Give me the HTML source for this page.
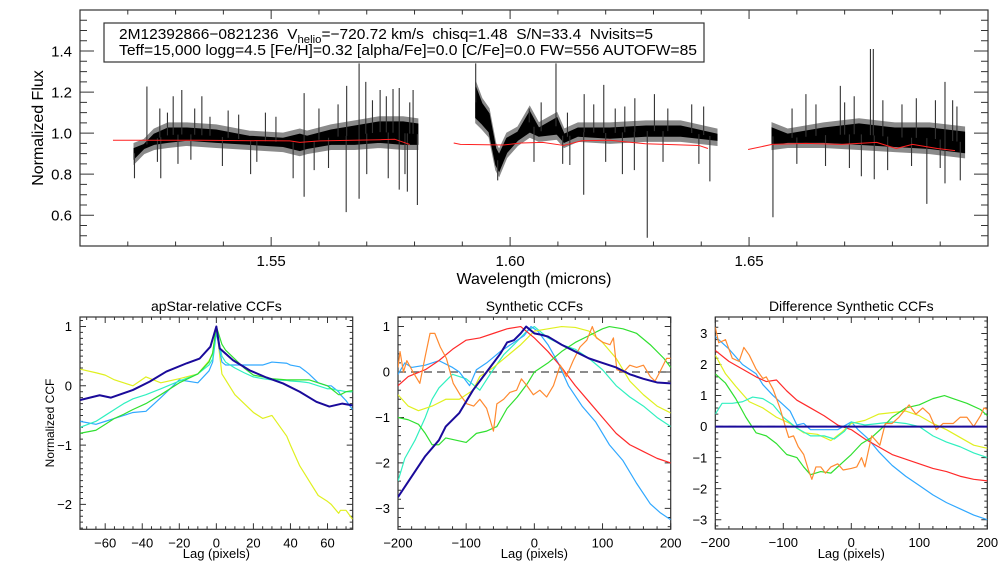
<!DOCTYPE html>
<html><head><meta charset="utf-8"><style>
html,body{margin:0;padding:0;background:#fff;}
svg{display:block;font-family:"Liberation Sans",sans-serif;}
</style></head><body>
<svg id="c" width="1008" height="576" viewBox="0 0 1008 576" xmlns="http://www.w3.org/2000/svg"></svg>
<script>
// ===== Top spectrum data =====
const seg1Wl=[1.5213,1.5234,1.5255,1.5284,1.5324,1.5385,1.5454,1.5525,1.5560,1.5575,1.5625,1.5675,1.5726,1.5776,1.5807];
const seg1Lo=[0.86,0.91,0.93,0.94,0.95,0.94,0.93,0.92,0.90,0.91,0.93,0.93,0.94,0.93,0.93];
const seg1Hi=[0.94,0.96,1.01,1.04,1.04,1.03,1.00,0.99,1.01,1.00,1.03,1.05,1.07,1.07,1.06];
const seg2Wl=[1.5928,1.5941,1.5956,1.5970,1.5977,1.5993,1.6016,1.6041,1.6060,1.6098,1.6113,1.6142,1.6209,1.6284,1.6357,1.6433];
const seg2Lo=[1.06,1.03,0.99,0.83,0.80,0.89,0.95,0.99,0.97,0.98,0.94,0.97,0.96,0.97,0.97,0.95];
const seg2Hi=[1.24,1.16,1.11,0.94,0.91,0.99,1.02,1.12,1.04,1.09,1.01,1.04,1.04,1.05,1.05,1.01];
const seg3Wl=[1.6548,1.6581,1.6656,1.6730,1.6805,1.6878,1.6951];
const seg3Lo=[0.93,0.94,0.94,0.93,0.92,0.91,0.89];
const seg3Hi=[1.04,1.01,1.04,1.06,1.04,1.04,1.02];
const spikeWl=[1.5240,1.5267,1.5295,1.5313,1.5355,1.5569,1.5658,1.5684,1.5698,1.5728,1.5755,1.5768,1.5797,
 1.5214,1.5269,1.5332,1.5457,1.5546,1.5569,1.5657,1.5684,1.5768,1.5785,1.5806,
 1.5928,1.6096,1.6196,1.6155,1.6302,1.6261,1.6287,1.6154,1.6260,1.6418,1.6125,1.5974,
 1.6754,1.6760,1.6619,1.6691,1.6910,1.6926,1.6550,1.6872,1.6735,1.6762,1.6910,1.6942,
 1.5283,1.5340,1.5372,1.5410,1.5432,1.5488,1.5510,1.5600,1.5640,1.5712,1.5741,1.5790,
 1.5262,1.5305,1.5398,1.5470,1.5590,1.5620,1.5700,1.5745,1.5780,
 1.6040,1.6065,1.6120,1.6175,1.6220,1.6240,1.6330,1.6380,1.6405,
 1.6050,1.6110,1.6200,1.6235,1.6320,1.6395,
 1.6590,1.6640,1.6700,1.6720,1.6780,1.6820,1.6850,1.6890,1.6935,
 1.6600,1.6660,1.6710,1.6790,1.6840,1.6900];
const spikeVal=[1.227,1.12,1.18,1.21,1.18,1.195,1.23,1.34,1.25,1.21,1.215,1.22,1.21,
 0.78,0.78,0.87,0.80,0.78,0.69,0.615,0.68,0.725,0.715,0.65,
 1.34,1.34,1.235,1.19,1.19,1.17,0.49,0.70,0.82,0.765,0.845,0.77,
 1.41,1.41,1.19,1.23,1.25,1.16,0.59,0.655,0.79,0.775,0.755,0.77,
 1.10,1.12,1.08,1.11,1.09,1.10,1.08,1.12,1.14,1.16,1.18,1.15,
 0.86,0.85,0.84,0.86,0.82,0.83,0.80,0.78,0.80,
 1.12,1.15,1.10,1.14,1.12,1.13,1.12,1.14,1.13,
 0.86,0.85,0.86,0.80,0.86,0.85,
 1.12,1.14,1.15,1.18,1.16,1.14,1.17,1.16,1.13,
 0.85,0.84,0.83,0.82,0.84,0.83];
const model1Wl=[1.5169,1.5351,1.5539,1.5560,1.5602,1.5728,1.5759,1.5790];
const model1Val=[0.965,0.965,0.962,0.955,0.962,0.968,0.970,0.945];
const model2Wl=[1.5882,1.5896,1.5986,1.6023,1.6068,1.6112,1.6150,1.6209,1.6283,1.6395,1.6414];
const model2Val=[0.952,0.945,0.942,0.952,0.955,0.940,0.963,0.965,0.948,0.940,0.925];
const model3Wl=[1.6498,1.6548,1.6619,1.6693,1.6767,1.6808,1.6842,1.6894,1.6931];
const model3Val=[0.920,0.945,0.950,0.945,0.955,0.925,0.945,0.925,0.915];
const topXTicks=[1.55,1.60,1.65];
const topYTicks=[0.6,0.8,1.0,1.2,1.4];

// ===== Panel 1: apStar-relative CCFs =====
const p1Lag=[-73.5,-63,-57,-45,-36,-27,-16,-9,-3.2,0,1.8,9,18,27,36,45,54,61,68,73.5];
const p1Navy=[-0.24,-0.16,-0.2,-0.07,0.07,0.24,0.38,0.46,0.66,1.0,0.63,0.43,0.26,0.14,0.04,-0.10,-0.27,-0.35,-0.30,-0.33];
const p1LagB=[-73.5,-65,-60,-55,-50,-45,-38,-30,-20,-10,-4,-2,0,3,5,10,15,20,25,30,38,40,45,48,50,55,60,62,66,67,70,73.5];
const p1Yellow=[0.28,0.22,0.18,0.10,0.05,0.0,0.15,0.05,0.12,0.20,0.42,0.55,1.0,0.2,0.1,-0.15,-0.3,-0.45,-0.55,-0.5,-0.85,-1.0,-1.35,-1.5,-1.6,-1.85,-1.95,-2.0,-2.15,-2.1,-2.1,-2.25];
const p1Blue=[-0.6,-0.65,-0.6,-0.55,-0.5,-0.45,-0.43,-0.2,0.1,0.05,0.25,0.4,0.9,0.4,0.35,0.35,0.35,0.35,0.35,0.4,0.38,0.35,0.32,0.25,0.2,0.05,0.0,0.0,-0.1,-0.15,-0.25,-0.4];
const p1Aqua=[-0.7,-0.6,-0.5,-0.4,-0.3,-0.22,-0.15,-0.05,0.08,0.2,0.35,0.45,0.95,0.5,0.4,0.3,0.22,0.15,0.12,0.1,0.09,0.08,0.07,0.06,0.05,0.0,-0.05,-0.05,-0.08,-0.08,-0.1,-0.1];
const p1Green=[-0.8,-0.75,-0.65,-0.55,-0.48,-0.4,-0.3,-0.15,0.05,0.2,0.4,0.55,1.0,0.7,0.6,0.45,0.3,0.18,0.15,0.12,0.1,0.1,0.1,0.1,0.1,0.05,0.0,-0.05,-0.15,-0.15,-0.1,-0.08];
const p1XTicks=[-60,-40,-20,0,20,40,60];
const p1YTicks=[-2,-1,0,1];

// ===== Panel 2: Synthetic CCFs =====
const p2Lag=[-200,-180,-160,-140,-130,-110,-90,-70,-50,-40,-30,-20,-12,0,10,20,40,60,80,100,120,140,160,180,200];
const p2Navy=[-2.75,-2.3,-1.85,-1.5,-1.2,-0.9,-0.4,0.0,0.4,0.65,0.7,0.85,1.0,0.85,0.82,0.78,0.6,0.45,0.3,0.2,0.1,-0.05,-0.15,-0.23,-0.25];
const p2LagC=[-200,-190,-175,-160,-150,-140,-130,-120,-100,-80,-65,-45,-30,-11,0,20,40,60,80,100,120,140,160,180,200];
const p2Aqua=[-2.4,-1.9,-1.5,-1.0,-0.6,-0.35,-0.2,-0.05,-0.15,-0.4,-0.05,0.38,0.6,0.9,1.0,0.75,0.6,0.5,0.3,0.05,-0.3,-0.55,-0.75,-1.0,-1.2];
const p2LagB=[-200,-190,-180,-160,-140,-120,-110,-95,-85,-70,-50,-30,-15,-5,5,20,35,50,70,90,110,130,150,170,185,200];
const p2Blue=[-0.05,0.2,0.1,0.15,0.25,0.1,0.0,-0.3,0.05,0.2,0.45,0.65,0.8,1.0,0.9,0.6,0.2,-0.3,-0.75,-1.1,-1.6,-1.95,-2.45,-2.9,-3.1,-3.25];
const p2LagY=[-200,-185,-170,-150,-130,-110,-90,-80,-60,-40,-20,0,20,40,60,80,100,120,140,160,180,200];
const p2Yellow=[-0.5,-0.75,-0.85,-0.75,-0.6,-0.6,-0.4,-0.1,0.1,0.35,0.6,0.9,0.95,1.0,0.98,0.9,0.65,0.3,-0.2,-0.5,-0.75,-0.9];
const p2LagR=[-200,-185,-160,-140,-120,-100,-80,-60,-40,-20,0,20,40,60,80,100,120,140,160,180,200];
const p2Red=[-0.3,-0.1,0.05,0.25,0.5,0.7,0.75,0.85,0.95,1.0,0.75,0.45,0.1,-0.3,-0.65,-1.0,-1.35,-1.6,-1.75,-1.9,-2.0];
const p2LagO=[-200,-197,-192,-187,-178,-168,-160,-153,-146,-138,-129,-119,-109,-99,-89,-80,-70,-60,-55,-45,-36,-26,-19,-11,-1.5,8,18,28,38,47,57,67,77,85,91,101,111,116,121,131,140,150,160,170,177,184,194,200];
const p2Orange=[0.1,0.45,0.0,0.25,0.0,-0.25,0.35,0.85,0.85,0.55,0.3,-0.25,-0.5,-0.7,-0.75,-0.6,-0.8,-1.3,-0.7,-0.6,-0.45,-0.4,-0.15,-0.3,-0.5,-0.4,-0.55,-0.3,0.15,-0.1,0.25,0.55,0.7,1.0,0.75,0.65,0.6,0.75,0.05,0.0,0.15,0.1,0.15,-0.1,-0.2,0.0,0.3,0.3];
const p2LagG=[-200,-185,-170,-160,-150,-140,-130,-115,-100,-85,-70,-55,-40,-25,-10,0,20,40,60,80,100,110,130,150,170,190,200];
const p2Green=[-1.0,-1.05,-1.15,-1.35,-1.6,-1.6,-1.45,-1.5,-1.55,-1.35,-1.3,-1.2,-0.8,-0.55,-0.25,0.0,0.2,0.45,0.65,0.8,0.95,1.0,0.95,0.85,0.6,0.3,0.1];
const p2XTicks=[-200,-100,0,100,200];
const p2YTicks=[-3,-2,-1,0,1];

// ===== Panel 3: Difference Synthetic CCFs =====
const p3LagO=[-200,-195,-185,-175,-165,-158,-150,-140,-130,-125,-115,-105,-97,-92,-85,-78,-70,-63,-58,-52,-45,-38,-30,-20,-12,0,8,15,20,30,42,50,60,70,85,95,105,115,125,135,150,160,170,180,190,195,200];
const p3Orange=[3.2,2.7,2.8,2.2,2.1,2.55,2.3,1.85,1.55,1.6,1.2,0.6,0.0,-0.35,-0.3,-0.65,-0.9,-1.4,-1.7,-1.3,-1.3,-1.5,-1.3,-1.2,-1.4,-1.35,-1.3,-1.0,-1.3,-0.3,-0.6,0.1,0.1,0.3,0.7,0.4,0.6,0.4,-0.1,0.1,0.1,0.3,0.3,0.0,0.35,0.6,0.55];
const p3LagB=[-200,-180,-160,-140,-130,-115,-100,-90,-80,-70,-60,-40,-20,0,10,25,40,60,80,100,120,140,160,180,200];
const p3Blue=[2.9,2.5,2.0,1.7,1.35,1.0,0.7,0.5,0.05,0.1,-0.1,-0.1,-0.1,0.15,-0.1,-0.4,-0.8,-1.25,-1.6,-1.9,-2.2,-2.45,-2.65,-2.85,-3.0];
const p3LagR=[-200,-180,-160,-140,-125,-110,-95,-80,-60,-40,-20,0,20,40,60,80,100,120,140,160,180,200];
const p3Red=[2.45,2.1,1.85,1.6,1.45,1.5,1.15,0.85,0.6,0.35,0.05,-0.1,-0.4,-0.65,-0.9,-1.05,-1.2,-1.35,-1.45,-1.6,-1.7,-1.75];
const p3LagY=[-200,-185,-170,-150,-130,-110,-90,-70,-50,-30,-15,0,20,40,60,80,100,120,140,160,180,200];
const p3Yellow=[2.3,1.7,1.3,0.8,0.6,0.3,0.1,-0.2,-0.25,-0.45,-0.2,0.1,0.2,0.4,0.45,0.5,0.35,0.1,-0.1,-0.35,-0.6,-0.7];
const p3LagC=[-200,-190,-175,-160,-145,-130,-115,-100,-80,-60,-40,-25,-10,0,20,40,60,80,100,120,140,160,180,200];
const p3Aqua=[0.4,0.75,0.75,0.8,0.95,0.9,0.7,0.3,-0.05,-0.3,-0.3,-0.4,-0.15,0.15,0.05,0.1,0.15,0.1,0.0,-0.3,-0.5,-0.65,-0.85,-1.0];
const p3LagG=[-200,-185,-170,-155,-140,-125,-110,-95,-80,-70,-60,-45,-30,-15,0,15,30,45,60,80,100,120,137,150,170,190,200];
const p3Green=[1.7,1.4,0.9,0.3,-0.2,-0.3,-0.55,-0.9,-1.0,-1.3,-1.55,-1.45,-1.5,-1.2,-0.9,-0.55,-0.35,-0.05,0.3,0.6,0.7,0.9,1.0,0.9,0.75,0.55,0.35];
const p3NavyLag=[-200,200];
const p3Navy=[0,0];
const p3XTicks=[-200,-100,0,100,200];
const p3YTicks=[-3,-2,-1,0,1,2,3];

// ===== drawing =====
const NS="http://www.w3.org/2000/svg";
const svg=document.getElementById('c');
function el(tag,attrs,parent){const e=document.createElementNS(NS,tag);for(const k in attrs)e.setAttribute(k,attrs[k]);(parent||svg).appendChild(e);return e;}
function scale(d0,d1,r0,r1){return v=>r0+(v-d0)*(r1-r0)/(d1-d0);}
function interp(xs,ys,x){if(x<=xs[0])return ys[0];for(let i=1;i<xs.length;i++){if(x<=xs[i]){const t=(x-xs[i-1])/(xs[i]-xs[i-1]);return ys[i-1]+t*(ys[i]-ys[i-1]);}}return ys[ys.length-1];}

function frame(P,g,xMinStep,yMinStep,xTicks,yTicks,fmtX,fmtY,fs,tLenX,tLenY){
  const r=el('rect',{x:P.x0,y:P.y0,width:P.x1-P.x0,height:P.y1-P.y0,fill:'none',stroke:'#333','stroke-width':1.2},g);
  
  
  let d='';
  const xs=scale(P.xd0,P.xd1,P.x0,P.x1), ys=scale(P.yd0,P.yd1,P.y1,P.y0);
  const start=Math.ceil(P.xd0/xMinStep-1e-6);
  for(let k=start;k*xMinStep<=P.xd1+1e-9;k++){const v=k*xMinStep;const px=xs(v);const maj=xTicks.some(t=>Math.abs(t-v)<xMinStep/2);const L=maj?tLenX[0]:tLenX[1];
    d+=`M${px},${P.y1}v${-L}M${px},${P.y0}v${L}`;}
  const ys0=Math.ceil(P.yd0/yMinStep-1e-6);
  for(let k=ys0;k*yMinStep<=P.yd1+1e-9;k++){const v=k*yMinStep;const py=ys(v);const maj=yTicks.some(t=>Math.abs(t-v)<yMinStep/2);const L=maj?tLenY[0]:tLenY[1];
    d+=`M${P.x0},${py}h${L}M${P.x1},${py}h${-L}`;}
  const tk=el('path',{d:d,stroke:'#333','stroke-width':1,fill:'none'},g);
  
  
  xTicks.forEach(t=>{const tx=el('text',{x:xs(t),y:P.y1+fs+5,'font-size':fs,'text-anchor':'middle',fill:'#000'},g);tx.textContent=fmtX(t);
    
    });
  yTicks.forEach(t=>{const tx=el('text',{x:P.x0-8,y:ys(t)+fs*0.36,'font-size':fs,'text-anchor':'end',fill:'#000'},g);tx.textContent=fmtY(t);
    
    });
  return {xs,ys};
}
function minus(s){return s.replace('-','\u2212');}
function series(g,A,xsArr,ysArr,color,w,name){
  let d='';xsArr.forEach((x,i)=>{d+=(i?'L':'M')+A.xs(x).toFixed(2)+','+A.ys(ysArr[i]).toFixed(2);});
  const p=el('path',{d:d,stroke:color,'stroke-width':w,fill:'none','stroke-linejoin':'round'},g);
  
  
  return p;
}
function clip(id,P){const cp=el('clipPath',{id:id});el('rect',{x:P.x0,y:P.y0,width:P.x1-P.x0,height:P.y1-P.y0},cp);}

// ---- top panel ----
const T={x0:80,x1:988,y0:10,y1:246,xd0:1.51,xd1:1.70,yd0:0.45,yd1:1.6};
const gT=el('g',{});


clip('clipT',T);
const AT=frame(T,gT,0.01,0.05,topXTicks,topYTicks,v=>v.toFixed(2),v=>v.toFixed(1),15,[9,4.5],[14,7]);
const gData=el('g',{'clip-path':'url(#clipT)'},gT);
function band(wl,lo,hi,name,pad,color){
  let d='';
  wl.forEach((w,i)=>{d+=(i?'L':'M')+AT.xs(w).toFixed(2)+','+AT.ys(hi[i]+pad).toFixed(2);});
  for(let i=wl.length-1;i>=0;i--){d+='L'+AT.xs(wl[i]).toFixed(2)+','+AT.ys(lo[i]-pad).toFixed(2);}
  d+='Z';
  const p=el('path',{d:d,fill:color,stroke:color,'stroke-width':1},gData);
  
  
}
band(seg1Wl,seg1Lo,seg1Hi,'spectrum-halo-1',0.01,'#8a8a8a');
band(seg2Wl,seg2Lo,seg2Hi,'spectrum-halo-2',0.01,'#8a8a8a');
band(seg3Wl,seg3Lo,seg3Hi,'spectrum-halo-3',0.01,'#8a8a8a');
band(seg1Wl,seg1Lo,seg1Hi,'spectrum-segment-blue-chip',-0.015,'#000');
band(seg2Wl,seg2Lo,seg2Hi,'spectrum-segment-green-chip',-0.015,'#000');
band(seg3Wl,seg3Lo,seg3Hi,'spectrum-segment-red-chip',-0.015,'#000');
let sd='';
spikeWl.forEach((w,i)=>{
  let base;
  if(w<=seg1Wl[seg1Wl.length-1]) base=(interp(seg1Wl,seg1Lo,w)+interp(seg1Wl,seg1Hi,w))/2;
  else if(w<=seg2Wl[seg2Wl.length-1]) base=(interp(seg2Wl,seg2Lo,w)+interp(seg2Wl,seg2Hi,w))/2;
  else base=(interp(seg3Wl,seg3Lo,w)+interp(seg3Wl,seg3Hi,w))/2;
  sd+=`M${AT.xs(w).toFixed(2)},${AT.ys(base).toFixed(2)}L${AT.xs(w).toFixed(2)},${AT.ys(spikeVal[i]).toFixed(2)}`;
});
const sp=el('path',{d:sd,stroke:'#333','stroke-width':1.1,fill:'none'},gData);


series(gData,AT,model1Wl,model1Val,'#ff2020',1,'model-segment-1');
series(gData,AT,model2Wl,model2Val,'#ff2020',1,'model-segment-2');
series(gData,AT,model3Wl,model3Val,'#ff2020',1,'model-segment-3');
// info box
const box=el('rect',{x:104,y:23,width:600,height:39,fill:'#fff',stroke:'#333','stroke-width':1.2},gT);


const t1=el('text',{x:119,y:39,'font-size':15,fill:'#000',textLength:534,lengthAdjust:'spacingAndGlyphs'},gT);


t1.innerHTML='2M12392866\u22120821236  V<tspan font-size="11" dy="4">helio</tspan><tspan dy="-4">=\u2212720.72 km/s  chisq=1.48  S/N=33.4  Nvisits=5</tspan>';
t1.style.whiteSpace='pre';
const t2=el('text',{x:119,y:55,'font-size':15,fill:'#000',textLength:578,lengthAdjust:'spacingAndGlyphs'},gT);


t2.textContent='Teff=15,000 logg=4.5 [Fe/H]=0.32 [alpha/Fe]=0.0 [C/Fe]=0.0 FW=556 AUTOFW=85';
const xt=el('text',{x:534,y:284,'font-size':16,'text-anchor':'middle'},gT);xt.textContent='Wavelength (microns)';


const yt=el('text',{x:0,y:0,'font-size':16,'text-anchor':'middle',transform:'translate(43,128) rotate(-90)'},gT);yt.textContent='Normalized Flux';



// ---- bottom panels ----
function smallPanel(P,id,title,xT,yT,xMin,yMin,name){
  const g=el('g',{});
  
  
  clip(id,P);
  const A=frame(P,g,xMin,yMin,xT,yT,v=>minus(String(v)),v=>minus(String(v)),13,[6,3],[6,3]);
  const tt=el('text',{x:(P.x0+P.x1)/2,y:P.y0-6,'font-size':14,'text-anchor':'middle'},g);tt.textContent=title;
  
  
  const xl=el('text',{x:(P.x0+P.x1)/2,y:558,'font-size':13,'text-anchor':'middle'},g);xl.textContent='Lag (pixels)';
  
  
  A.g=el('g',{'clip-path':`url(#${id})`},g);
  return A;
}
const P1={x0:80,x1:352.7,y0:317,y1:529.3,xd0:-73.6,xd1:73.6,yd0:-2.42,yd1:1.16};
const A1=smallPanel(P1,'clip1','apStar-relative CCFs',p1XTicks,p1YTicks,5,0.1,'apstar-ccf-panel');
const yl1=el('text',{x:0,y:0,'font-size':12,'text-anchor':'middle',transform:'translate(54,423) rotate(-90)'});yl1.textContent='Normalized CCF';


series(A1.g,A1,p1LagB,p1Yellow,'#e0f020',1.2,'ccf-visit-yellow');
series(A1.g,A1,p1LagB,p1Blue,'#30a8ff',1.2,'ccf-visit-blue');
series(A1.g,A1,p1LagB,p1Aqua,'#30f0c0',1.2,'ccf-visit-aqua');
series(A1.g,A1,p1LagB,p1Green,'#30e030',1.2,'ccf-visit-green');
series(A1.g,A1,p1Lag,p1Navy,'#1a0a9a',2,'ccf-visit-navy');

const P2={x0:398,x1:670.7,y0:317,y1:529.3,xd0:-200,xd1:200,yd0:-3.46,yd1:1.21};
const A2=smallPanel(P2,'clip2','Synthetic CCFs',p2XTicks,p2YTicks,20,0.2,'synthetic-ccf-panel');
const z2=el('line',{x1:P2.x0,x2:P2.x1,y1:A2.ys(0),y2:A2.ys(0),stroke:'#666','stroke-width':1.5,'stroke-dasharray':'8,5'},A2.g);


series(A2.g,A2,p2LagC,p2Aqua,'#30f0c0',1.2,'synth-ccf-aqua');
series(A2.g,A2,p2LagB,p2Blue,'#30a8ff',1.2,'synth-ccf-blue');
series(A2.g,A2,p2LagY,p2Yellow,'#e0f020',1.2,'synth-ccf-yellow');
series(A2.g,A2,p2LagR,p2Red,'#ff2a2a',1.2,'synth-ccf-red');
series(A2.g,A2,p2LagG,p2Green,'#30e030',1.2,'synth-ccf-green');
series(A2.g,A2,p2LagO,p2Orange,'#ff8a30',1.2,'synth-ccf-orange');
series(A2.g,A2,p2Lag,p2Navy,'#1a0a9a',2,'synth-ccf-navy');

const P3={x0:715.3,x1:987.3,y0:317,y1:529,xd0:-200,xd1:200,yd0:-3.3,yd1:3.53};
const A3=smallPanel(P3,'clip3','Difference Synthetic CCFs',p3XTicks,p3YTicks,20,0.2,'difference-ccf-panel');
const z3=el('line',{x1:P3.x0,x2:P3.x1,y1:A3.ys(0),y2:A3.ys(0),stroke:'#666','stroke-width':1.5,'stroke-dasharray':'8,5'},A3.g);


series(A3.g,A3,p3LagB,p3Blue,'#30a8ff',1.2,'diff-ccf-blue');
series(A3.g,A3,p3LagR,p3Red,'#ff2a2a',1.2,'diff-ccf-red');
series(A3.g,A3,p3LagY,p3Yellow,'#e0f020',1.2,'diff-ccf-yellow');
series(A3.g,A3,p3LagC,p3Aqua,'#30f0c0',1.2,'diff-ccf-aqua');
series(A3.g,A3,p3LagG,p3Green,'#30e030',1.2,'diff-ccf-green');
series(A3.g,A3,p3LagO,p3Orange,'#ff8a30',1.2,'diff-ccf-orange');
series(A3.g,A3,p3NavyLag,p3Navy,'#1a0a9a',2,'diff-ccf-navy');
</script>
</body></html>
